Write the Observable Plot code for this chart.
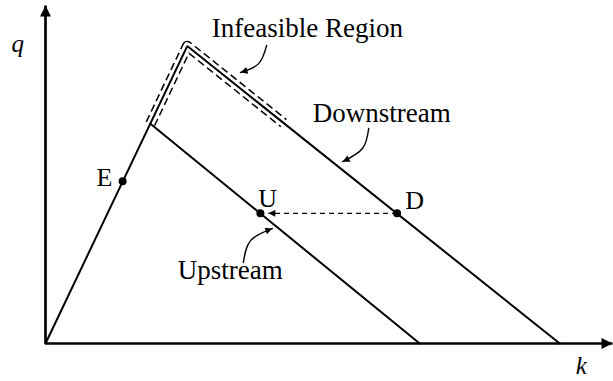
<!DOCTYPE html>
<html><head><meta charset="utf-8">
<script src="https://cdn.jsdelivr.net/npm/d3@7"></script>
<script src="https://cdn.jsdelivr.net/npm/@observablehq/plot@0.6"></script>
<style>body{margin:0;background:#fff}svg{display:block}</style>
</head><body><div id="chart"></div>
<script>
// Fundamental diagram (density k, flow q), arbitrary units 0..100
const downstreamK = [0, 25, 90.7];
const downstreamQ = [0, 88, 0];
const upstreamK = [18.5, 66];
const upstreamQ = [65, 0];
const infeasibleK = [18.5, 25, 42];
const infeasibleQ = [65, 88, 65.2];
const pointNames = ["E", "U", "D"];
const pointK = [13.6, 37.9, 62];
const pointQ = [48, 38.5, 38.5];
const pointLabelK = [10.4, 39.2, 65.1];
const pointLabelQ = [49.1, 42.9, 42.3];
const calloutText = ["Infeasible Region", "Downstream", "Upstream"];
const calloutK = [46.2, 59.3, 32.6];
const calloutQ = [93.3, 68.0, 21.6];
const leaderK = [[39.0, 37.6, 34.4], [57.0, 55.9, 52.4], [34.9, 36.2, 40.0]];
const leaderQ = [[88.2, 82.8, 80.2], [63.6, 57.7, 53.8], [24.0, 30.5, 34.0]];
const axisNames = ["q", "k"];
const axisLabelK = [-4.9, 94.5];
const axisLabelQ = [88.5, -6.8];
const shiftFrom = {k: 62, q: 38.5};
const shiftTo = {k: 39.3, q: 38.5};

const pts = (ks, qs) => ks.map((k, i) => ({k, q: qs[i]}));
const downstream = pts(downstreamK, downstreamQ);
const upstream = pts(upstreamK, upstreamQ);
const band = pts(infeasibleK, infeasibleQ);
const points = pointNames.map((name, i) => ({name, k: pointK[i], q: pointQ[i], lk: pointLabelK[i], lq: pointLabelQ[i]}));
const callouts = calloutText.map((t, i) => ({t, k: calloutK[i], q: calloutQ[i]}));
const leaders = leaderK.flatMap((ks, j) => ks.map((k, i) => ({id: j, k, q: leaderQ[j][i]})));
const axes = [{k1: 0, q1: 0, k2: 100, q2: 0}, {k1: 0, q1: 0, k2: 0, q2: 100}];
const axisLabels = axisNames.map((t, i) => ({t, k: axisLabelK[i], q: axisLabelQ[i]}));

const serif = "Liberation Serif, Times New Roman, serif";
const LEADER = "#010101", AXIS = "#020202";

const svg = Plot.plot({
  width: 613, height: 381,
  marginLeft: 45, marginRight: 1, marginTop: 5, marginBottom: 38,
  x: {domain: [0, 100], axis: null},
  y: {domain: [0, 100], axis: null},
  style: {background: "#fff", overflow: "visible"},
  marks: [
    // infeasible region: dashed outline band
    Plot.line(band, {x: "k", y: "q", stroke: "#000", strokeWidth: 10.6, strokeLinejoin: "round", strokeLinecap: "butt", strokeDasharray: "7.5,4"}),
    Plot.line(band, {x: "k", y: "q", stroke: "#fff", strokeWidth: 7.6, strokeLinejoin: "round", strokeLinecap: "round"}),
    // axes
    Plot.link(axes, {x1: "k1", y1: "q1", x2: "k2", y2: "q2", stroke: AXIS, strokeWidth: 2.7}),
    // curves
    Plot.line(downstream, {x: "k", y: "q", stroke: "#000", strokeWidth: 2, strokeLinejoin: "miter"}),
    Plot.line(upstream, {x: "k", y: "q", stroke: "#000", strokeWidth: 2}),
    // dashed shift arrow D -> U
    Plot.link([0], {x1: () => shiftFrom.k, y1: () => shiftFrom.q, x2: () => shiftTo.k, y2: () => shiftTo.q, stroke: LEADER, strokeWidth: 1.2, strokeDasharray: "5,4"}),
    // leader arrows
    Plot.line(leaders, {x: "k", y: "q", z: "id", curve: "natural", stroke: LEADER, strokeWidth: 1.4}),
    // points
    Plot.dot(points, {x: "k", y: "q", r: 4, fill: "#000"}),
    Plot.text(points, {x: "lk", y: "lq", text: "name", fontSize: 26, fontFamily: serif, fill: "#000"}),
    Plot.text(callouts, {x: "k", y: "q", text: "t", fontSize: 27, fontFamily: serif, fill: "#000"}),
    Plot.text(axisLabels, {x: "k", y: "q", text: "t", fontSize: 25, fontFamily: serif, fontStyle: "italic", fill: "#000"})
  ]
});

const root = d3.select(svg);
const defs = root.insert("defs", ":first-child");
function addMarker(id, w, h) {
  defs.append("marker").attr("id", id)
    .attr("viewBox", "0 0 10 10").attr("refX", 10).attr("refY", 5)
    .attr("markerWidth", w).attr("markerHeight", h)
    .attr("markerUnits", "userSpaceOnUse").attr("orient", "auto")
    .append("path").attr("d", "M0,0L10,5L0,10Z").attr("fill", "#000");
}
addMarker("head-s", 10, 7);
addMarker("head-l", 16, 11);
const sel = c => `[stroke="${c}"] path, [stroke="${c}"] line, path[stroke="${c}"], line[stroke="${c}"]`;
root.selectAll(sel(LEADER)).attr("marker-end", "url(#head-s)");
root.selectAll(sel(AXIS)).attr("marker-end", "url(#head-l)");

document.getElementById("chart").appendChild(svg);
</script></body></html>
